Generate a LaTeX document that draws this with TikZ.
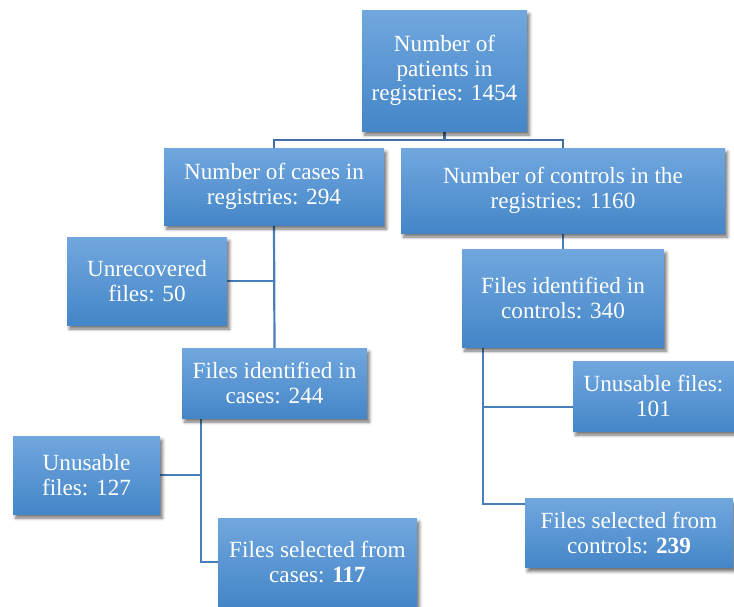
\documentclass[tikz,border=0pt]{standalone}
\usepackage{fontspec}
\setmainfont{Liberation Serif}
\newfontfamily\boxfont{Liberation Serif}
\usetikzlibrary{shadows.blur,backgrounds,calc}
\definecolor{topblue}{RGB}{113,167,222}
\definecolor{botblue}{RGB}{68,134,200}
\definecolor{linec}{RGB}{74,126,187}
\definecolor{linedark}{RGB}{66,110,165}
\tikzset{
  box/.style={rectangle, inner sep=2pt, align=center, text=white,
    top color=topblue, bottom color=botblue,
    font=\boxfont\fontsize{23.2}{24.5}\selectfont,
    blur shadow={shadow xshift=2.5pt, shadow yshift=-4pt, shadow blur radius=3pt, shadow opacity=55}},
  conn/.style={draw=linec, line width=2.2pt}
}
\begin{document}
\begin{tikzpicture}[x=1pt,y=-1pt]
\useasboundingbox (0,0) rectangle (734,606);
\node[box, minimum width=165pt, minimum height=121pt] (top) at (444.5,70.5) {Number of\\patients in\\registries: 1454};
\node[box, minimum width=220pt, minimum height=77pt] (cases) at (274,186.5) {Number of cases in\\registries: 294};
\node[box, minimum width=324pt, minimum height=85pt] (controls) at (563,190.5) {Number of controls in the\\registries: 1160};
\node[box, minimum width=160pt, minimum height=88pt] (unrec) at (147,281) {Unrecovered\\files: 50};
\node[box, minimum width=185pt, minimum height=70pt] (ficases) at (274.5,383) {Files identified in\\cases: 244};
\node[box, minimum width=202pt, minimum height=98pt] (ficontrols) at (563,298) {Files identified in\\controls: 340};
\node[box, minimum width=161pt, minimum height=70pt] (un101) at (653.5,396) {Unusable files:\\101};
\node[box, minimum width=147pt, minimum height=78pt] (un127) at (86.5,475) {Unusable\\files: 127};
\node[box, minimum width=199pt, minimum height=88pt] (fscases) at (317.5,562) {Files selected from\\cases: \textbf{117}};
\node[box, minimum width=208pt, minimum height=69pt] (fscontrols) at (629,533) {Files selected from\\controls: \textbf{239}};
\coordinate (j1) at (444.5,140);
\coordinate (a) at (201,418);
\coordinate (b) at (483,347);
\coordinate (c) at (525,504);
\coordinate (d) at (573,407);
\begin{scope}[on background layer]
\draw[conn, draw=linedark] (top.south) -- (top.south |- j1);
\draw[conn, draw=linedark] (cases.north) |- (controls.north |- j1) -- (controls.north);
\draw[conn] (cases.south) -- (ficases.north);
\draw[conn] (unrec.east) -- (unrec.east -| cases.south);
\draw[conn] (a) |- (fscases.west);
\draw[conn] (un127.east) -- (un127.east -| a);
\draw[conn] (controls.south) -- (ficontrols.north);
\draw[conn] (b) |- (c);
\draw[conn] (b |- d) -- (d);
\end{scope}
\end{tikzpicture}
\end{document}
